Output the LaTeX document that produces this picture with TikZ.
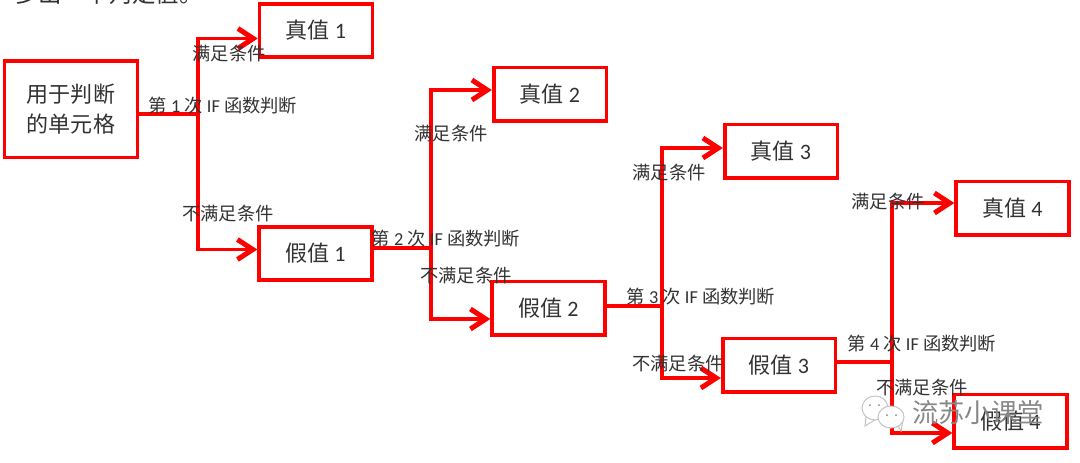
\documentclass[tikz,border=0pt]{standalone}
\usepackage{fontspec}
\setmainfont{Carlito}
\newfontfamily\cjk{Noto Sans CJK SC}
\usetikzlibrary{arrows.meta,positioning,calc}
\definecolor{boxred}{RGB}{255,0,0}
\definecolor{labelgray}{RGB}{50,50,50}
\definecolor{markgray}{RGB}{135,135,135}
\tikzset{>={Straight Barb[length=4.6mm,width=6mm,line width=1.5mm]}}
\tikzset{valuebox/.style={draw=boxred,line width=1.1mm,rectangle,inner sep=0pt,minimum width=3.38cm,minimum height=1.6cm,text=labelgray,font=\fontsize{18.8}{25}\selectfont}}
\tikzset{branch/.style={draw=boxred,line width=1.1mm,line join=miter}}
\tikzset{note/.style={text=labelgray,inner sep=0pt,yshift=-0.045cm,font=\fontsize{15.6}{18}\selectfont}}
\newcommand{\okcase}{{\cjk 满足条件}}
\newcommand{\nocase}{{\cjk 不满足条件}}
\newcommand{\ifround}[1]{{\cjk 第} #1 {\cjk 次} IF {\cjk 函数判断}}
\begin{document}
\begin{tikzpicture}[x=0.03cm,y=-0.03cm]
    \useasboundingbox (0,0) rectangle (1080,462);
    \clip (0,0) rectangle (1080,462);
    \node[text=labelgray,inner sep=0pt,font=\fontsize{20}{24}\selectfont] (head) at (109,-6) {\cjk 多出一个判定值。};
    % boxes
    \node[valuebox,minimum width=3.98cm,minimum height=2.9cm,align=center] (cell) at (71,109) {{\cjk 用于判断}\\{\cjk 的单元格}};
    \node[valuebox] (true1) at (316,30.5) {{\cjk 真值} 1};
    \node[valuebox] (false1) at (315.5,253.5) {{\cjk 假值} 1};
    \node[valuebox] (true2) at (550,94) {{\cjk 真值} 2};
    \node[valuebox] (false2) at (548.5,308) {{\cjk 假值} 2};
    \node[valuebox] (true3) at (781,151) {{\cjk 真值} 3};
    \node[valuebox] (false3) at (779,365) {{\cjk 假值} 3};
    \node[valuebox] (true4) at (1012.5,208) {{\cjk 真值} 4};
    \node[valuebox] (false4) at (1010.5,421) {{\cjk 假值} 4};
    % forks
    \coordinate (fork1) at (198,114);
    \coordinate (fork2) at (431,248);
    \coordinate (fork3) at (662,306);
    \coordinate (fork4) at (892,362);
    \draw[branch] (cell.east |- fork1) -- (fork1);
    \draw[branch,->] (fork1) |- ([yshift=-0.24cm]true1.west);
    \draw[branch,->] (fork1) |- ([yshift=0.12cm]false1.west);
    \draw[branch] (false1.east |- fork2) -- (fork2);
    \draw[branch,->] (fork2) |- ([yshift=0.12cm]true2.west);
    \draw[branch,->] (fork2) |- ([yshift=-0.33cm]false2.west);
    \draw[branch] (false2.east |- fork3) -- (fork3);
    \draw[branch,->] (fork3) |- ([yshift=0.09cm]true3.west);
    \draw[branch,->] (fork3) |- ([yshift=-0.39cm]false3.west);
    \draw[branch] (false3.east |- fork4) -- (fork4);
    \draw[branch,->] (fork4) |- ([yshift=0.15cm]true4.west);
    \draw[branch,->] (fork4) |- ([yshift=-0.36cm]false4.west);
    % labels
    \node[note] (ok1) at (229,52) {\okcase};
    \node[note] (round1) at (223,104) {\ifround{1}};
    \node[note] (no1) at (228,212) {\nocase};
    \node[note] (ok2) at (451,132) {\okcase};
    \node[note] (round2) at (446,237) {\ifround{2}};
    \node[note] (no2) at (466,274) {\nocase};
    \node[note] (ok3) at (669,171) {\okcase};
    \node[note] (round3) at (701,295) {\ifround{3}};
    \node[note] (no3) at (678,362) {\nocase};
    \node[note] (ok4) at (888,200) {\okcase};
    \node[note] (round4) at (922,342) {\ifround{4}};
    \node[note] (no4) at (922,386) {\nocase};
    % watermark
    \begin{scope}[draw=markgray!50,line width=0.3mm,fill=white]
        \filldraw (866,416) -- (865,426) -- (875,420) -- cycle;
        \filldraw (875,408) ellipse (13 and 12);
        \filldraw (897,424) -- (901,431) -- (903,420) -- cycle;
        \filldraw (891,417) ellipse (13 and 11);
        \fill[markgray] (870,405) circle (1) (879,405) circle (1) (887,415) circle (1) (896,415) circle (1);
    \end{scope}
    \node[text=markgray,inner sep=0pt,font=\fontsize{22.4}{26}\selectfont] (mark) at (978,413) {\cjk 流苏小课堂};
\end{tikzpicture}
\end{document}
